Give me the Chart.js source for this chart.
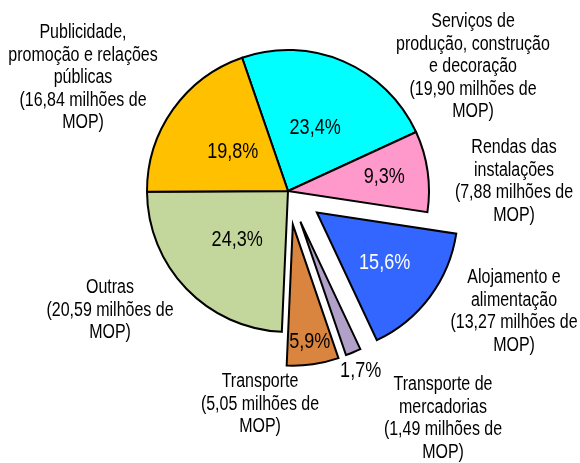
<!DOCTYPE html>
<html>
<head>
<meta charset="utf-8">
<script src="https://cdn.jsdelivr.net/npm/chart.js@4/dist/chart.umd.min.js"></script>
<style>
  body { margin: 0; background: #fff; }
</style>
</head>
<body>
<canvas id="torta" width="580" height="463"></canvas>
<script>
// datos (milhões de MOP), en el orden de las agujas del reloj
const categorias = [
  ['Serviços de', 'produção, construção', 'e decoração'],
  ['Rendas das', 'instalações'],
  ['Alojamento e', 'alimentação'],
  ['Transporte de', 'mercadorias'],
  ['Transporte'],
  ['Outras'],
  ['Publicidade,', 'promoção e relações', 'públicas']
];
const valores = [19.90, 7.88, 13.27, 1.49, 5.05, 20.59, 16.84];
const porcentajes = [23.4, 9.3, 15.6, 1.7, 5.9, 24.3, 19.8];

// estilo
const colores = ['#00ffff', '#ff99cc', '#3366ff', '#b1a0c7', '#d9853f', '#c3d69b', '#ffc000'];
const separacion = [0, 0, 36, 33, 34, 0, 0];       // px que se aleja cada porcion
const radioTexto = [0.49, 0.69, 0.6, 1.14, 0.84, 0.5, 0.48];
const colorTexto = ['#000', '#000', '#fff', '#000', '#000', '#000', '#000'];
// centro x, y de la primera linea de cada etiqueta externa
const posEtiqueta = [[473, 22], [514, 148], [514, 278], [443, 385], [260, 382], [110, 288], [83, 33]];

const fuente = '"Liberation Sans", Arial, sans-serif';
const estrecho = 0.82; // la letra original es condensada

function coma(n, d) {
  return n.toFixed(d).replace('.', ',');
}

function texto(ctx, t, x, y) {
  ctx.save();
  ctx.translate(x, y);
  ctx.scale(estrecho, 1);
  ctx.fillText(t, 0, 0);
  ctx.restore();
}

// separa las porciones sin cambiar el radio
const separar = {
  id: 'separar',
  afterDatasetUpdate(chart, args) {
    args.meta.data.forEach((arc, i) => {
      const d = separacion[i];
      if (!d) return;
      const mid = (arc.startAngle + arc.endAngle) / 2;
      arc.x += Math.cos(mid) * d;
      arc.y += Math.sin(mid) * d;
    });
  }
};

// textos: porcentajes y etiquetas
const textos = {
  id: 'textos',
  afterDraw(chart) {
    const ctx = chart.ctx;
    const arcs = chart.getDatasetMeta(0).data;
    ctx.save();
    ctx.textAlign = 'center';
    ctx.textBaseline = 'middle';

    ctx.font = '22px ' + fuente;
    arcs.forEach((arc, i) => {
      const mid = (arc.startAngle + arc.endAngle) / 2;
      const r = arc.outerRadius * radioTexto[i];
      ctx.fillStyle = colorTexto[i];
      texto(ctx, coma(porcentajes[i], 1) + '%', arc.x + Math.cos(mid) * r, arc.y + Math.sin(mid) * r);
    });

    ctx.font = '19.5px ' + fuente;
    ctx.fillStyle = '#000';
    categorias.forEach((lineas, i) => {
      const todas = lineas.concat(['(' + coma(valores[i], 2) + ' milhões de', 'MOP)']);
      const [x, y] = posEtiqueta[i];
      todas.forEach((t, k) => texto(ctx, t, x, y + k * 22.5));
    });
    ctx.restore();
  }
};

const ctx = document.getElementById('torta');

new Chart(ctx, {
  type: 'pie',
  data: {
    labels: categorias.map(c => c.join(' ')),
    datasets: [{
      data: valores,
      backgroundColor: colores,
      borderColor: '#000',
      borderWidth: 2,
      borderJoinStyle: 'miter'
    }]
  },
  options: {
    responsive: false,
    animation: false,
    rotation: -19,
    radius: 141,
    layout: { padding: { left: 0, right: 4, top: 0, bottom: 81 } },
    plugins: {
      legend: { display: false },
      tooltip: { enabled: false }
    }
  },
  plugins: [separar, textos]
});
</script>
</body>
</html>
